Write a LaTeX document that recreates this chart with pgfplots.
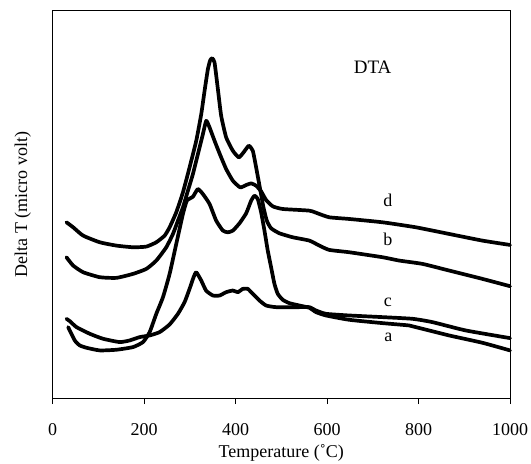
\documentclass[border=0pt]{standalone}
\usepackage{fontspec}
\setmainfont{Liberation Serif}
\usepackage{pgfplots}
\pgfplotsset{compat=1.18}
\tikzset{curve/.style={black, solid, line width=3.7bp, line join=round, line cap=round, mark=none, smooth, tension=0.3}}
\begin{document}
\fontsize{18bp}{21bp}\selectfont
\begin{tikzpicture}
\begin{axis}[name=ax,
  width=457.5bp, height=387bp, scale only axis,
  xmin=0, xmax=1000, ymin=0, ymax=1163,
  xtick={0,200,400,600,800,1000}, ytick=\empty,
  xtick pos=bottom,
  xtick align=outside, major tick length=6bp,
  tick style={black, line width=0.9bp},
  axis line style={black, line width=1bp},
  /pgf/number format/assume math mode=true,
  /pgf/number format/1000 sep={},
  xticklabel style={anchor=base, yshift=-31bp},
  xlabel={Temperature (˚C)},
  ylabel={Delta T (micro volt)},
  every axis x label/.style={at={(axis description cs:0.5,0)}, anchor=base, yshift=-59bp},
  every axis y label/.style={at={(axis description cs:-0.065,0.5)}, rotate=90, anchor=center},
  clip=false,
]
% curve b (upper-left start, highest peak)
\addplot[curve] coordinates {
(30.5,528)(45.1,513)(66.9,488)(103.3,468)(139.6,458)(176.0,453)(205.1,455)
(226.9,468)(245.1,488)(256.0,513)(270.5,558)(285.1,618)(299.6,693)(314.2,773)
(325.1,853)(332.4,923)(339.6,988)(344.7,1015)(349.1,1021)(354.2,1008)(361.5,928)
(368.7,848)(379.6,783)(394.2,743)(407.3,723)(417.5,738)(429.1,758)(437.8,743)
(445.1,693)(453.8,628)(461.1,573)(468.4,533)(477.8,510)(496.0,495)(525.1,483)
(561.5,473)(583.3,458)(605.1,445)(648.7,438)(721.5,423)(757.8,413)(808.7,403)
(866.9,383)(939.6,358)(1000,336)};
% curve d
\addplot[curve] coordinates {
(30.5,423)(45.1,398)(66.9,378)(103.3,363)(139.6,361)(176.0,373)(205.1,388)
(226.9,413)(248.7,453)(263.3,493)(274.2,533)(285.1,573)(296.0,623)(306.9,673)
(317.8,733)(328.7,793)(336.0,833)(343.3,813)(354.2,773)(365.1,735)(379.6,688)
(394.2,653)(410.2,633)(423.3,640)(434.2,645)(445.1,638)(456.0,621)(466.9,595)
(481.5,576)(503.3,568)(561.5,563)(583.3,553)(605.1,543)(648.7,538)(721.5,528)
(794.2,513)(866.9,493)(939.6,473)(1000,460)};
% curve c (small peaks)
\addplot[curve] coordinates {
(30.5,238)(37.8,231)(52.4,213)(81.5,193)(110.5,178)(146.9,168)(168.7,173)
(190.5,183)(212.4,188)(234.2,198)(256.0,221)(274.2,253)(288.7,288)(299.6,328)
(308.4,363)(314.2,378)(325.1,353)(335.6,323)(350.5,308)(365.1,308)(379.6,318)
(394.2,323)(405.1,318)(416.0,328)(426.9,328)(437.8,313)(452.4,293)(466.9,278)
(488.7,273)(538.9,273)(561.5,273)(576.0,263)(597.8,253)(648.7,248)(721.5,243)
(786.9,238)(830.5,228)(903.3,203)(1000,180)};
% curve a (large double peak)
\addplot[curve] coordinates {
(34.2,213)(48.7,173)(59.6,158)(74.2,151)(103.3,143)(139.6,145)(176.0,153)
(197.8,168)(212.4,198)(226.9,253)(241.5,303)(256.0,373)(270.5,463)(285.1,553)
(293.8,593)(306.9,605)(317.8,628)(328.7,613)(343.3,583)(357.8,533)(372.4,503)
(383.3,498)(394.2,503)(408.7,525)(423.3,555)(434.2,593)(441.5,608)(448.7,598)
(456.0,558)(463.3,503)(470.5,443)(477.8,393)(485.1,343)(492.4,313)(503.3,295)
(517.8,285)(539.6,278)(561.5,271)(576.0,258)(597.8,248)(648.7,235)(721.5,225)
(779.6,218)(794.2,213)(866.9,188)(939.6,166)(1000,143)};
\node[font=\fontsize{19bp}{22bp}\selectfont] at (axis cs:699.6,993) {DTA};
\node at (axis cs:733,593) {d};
\node at (axis cs:733,478) {b};
\node at (axis cs:733,288) {c};
\node at (axis cs:734,183) {a};
\end{axis}
\pgfresetboundingbox
\path[use as bounding box] ([xshift=-52.5bp,yshift=-66bp]ax.south west) rectangle ([xshift=21bp,yshift=11bp]ax.north east);
\end{tikzpicture}
\end{document}
